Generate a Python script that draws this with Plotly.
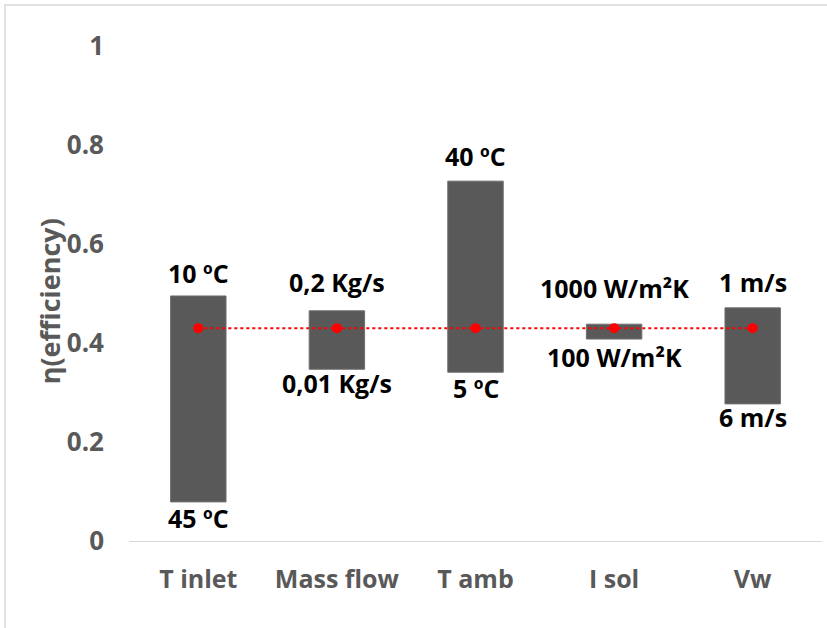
import plotly.graph_objects as go

# ---- data ----
categories = ["T inlet", "Mass flow", "T amb", "I sol", "Vw"]
eta_high = [0.495, 0.465, 0.727, 0.438, 0.471]
eta_low = [0.079, 0.347, 0.341, 0.408, 0.277]
eta_ref = [0.430, 0.430, 0.430, 0.430, 0.430]
label_high = ["10 ºC", "0,2 Kg/s", "40 ºC", "1000 W/m²K", "1 m/s"]
label_low = ["45 ºC", "0,01 Kg/s", "5 ºC", "100 W/m²K", "6 m/s"]
y_ticks = [0, 0.2, 0.4, 0.6, 0.8, 1]
y_ticklabels = ["0", "0.2", "0.4", "0.6", "0.8", "1"]

# ---- style ----
shift_high = [23, 29, 25, 36, 26]
shift_low = [-16, -14, -16, -18, -13]
FONT = "Open Sans"
GRAY = "#595959"

fig = go.Figure()
fig.add_trace(go.Bar(
    x=categories,
    y=[h - l for h, l in zip(eta_high, eta_low)],
    base=eta_low,
    marker=dict(color="#595959", line=dict(color="#6e6e6e", width=1)),
    showlegend=False,
    hoverinfo="skip",
))
fig.add_trace(go.Scatter(
    x=categories, y=eta_ref,
    mode="lines+markers",
    line=dict(color="#ff0000", width=2, dash="dot"),
    marker=dict(color="#ff0000", size=10),
    showlegend=False,
))

annotations = []
for c, h, l, th, tl, sh, sl in zip(categories, eta_high, eta_low, label_high, label_low, shift_high, shift_low):
    annotations.append(dict(x=c, y=h, text=th, showarrow=False, yshift=sh,
                            xref="x", yref="y",
                            font=dict(family=FONT, size=25, color="#000000", weight="bold")))
    annotations.append(dict(x=c, y=l, text=tl, showarrow=False, yshift=sl,
                            xref="x", yref="y",
                            font=dict(family=FONT, size=25, color="#000000", weight="bold")))

annotations.append(dict(x=-0.143, y=0.485, xref="paper", yref="paper", text="η(efficiency)",
                        textangle=-90, showarrow=False,
                        font=dict(family=FONT, size=27, color=GRAY, weight="bold")))

fig.update_layout(
    width=827, height=628,
    margin=dict(l=129, r=5, t=46, b=87),
    paper_bgcolor="white", plot_bgcolor="white",
    bargap=0.6,
    annotations=annotations,
    shapes=[dict(type="rect", xref="paper", yref="paper",
                 x0=-0.179, x1=1.2, y0=-0.5, y1=1.083,
                 line=dict(color="#d9d9d9", width=1.5), fillcolor="rgba(0,0,0,0)", layer="below")],
    font=dict(family=FONT),
)
fig.update_xaxes(
    range=[-0.5, 4.5], showgrid=False, zeroline=False,
    showline=True, linecolor="#d9d9d9", linewidth=1,
    ticks="", ticklabelstandoff=16,
    tickfont=dict(family=FONT, size=25, color=GRAY, weight="bold"),
)
fig.update_yaxes(
    range=[0, 1], showgrid=False, zeroline=False, showline=False,
    tickvals=y_ticks, ticktext=y_ticklabels, ticks="", ticklabelstandoff=24,
    tickfont=dict(family=FONT, size=26, color=GRAY, weight="bold"),
)

fig.write_html("out.html", config={"displayModeBar": False},
               post_script="document.body.style.margin='0';document.body.style.overflow='hidden';")
